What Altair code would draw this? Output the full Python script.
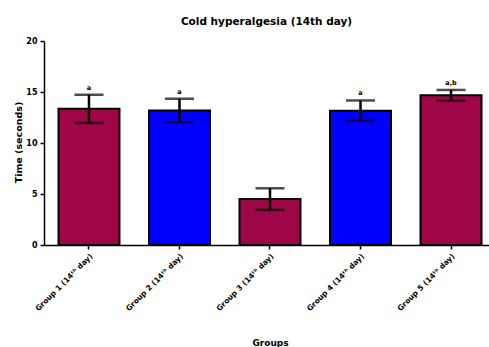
import altair as alt
import pandas as pd

groups = ["Group 1 (14ᵗʰ day)", "Group 2 (14ᵗʰ day)", "Group 3 (14ᵗʰ day)",
          "Group 4 (14ᵗʰ day)", "Group 5 (14ᵗʰ day)"]
means = [13.35, 13.18, 4.5, 13.17, 14.68]
sems = [1.38, 1.16, 1.06, 1.0, 0.52]
letters = ["a", "a", "", "a", "a,b"]
colors = ["#9E0648", "#0000FF", "#9E0648", "#0000FF", "#9E0648"]

df = pd.DataFrame({
    "group": groups,
    "mean": means,
    "lo": [m - s for m, s in zip(means, sems)],
    "hi": [m + s for m, s in zip(means, sems)],
    "letter": letters,
    "color": colors,
})

FONT = "DejaVu Sans"

x = alt.X("group:N", sort=groups,
          scale=alt.Scale(range=[0, 452], paddingInner=0.326, paddingOuter=0.16),
          axis=alt.Axis(title="Groups", labelAngle=-45, labelFont=FONT, labelFontSize=7.5,
                        labelFontWeight="bold", labelColor="black", tickColor="black",
                        tickSize=4, tickWidth=1.5, domainColor="black", domainWidth=1.5,
                        titleFont=FONT, titleFontSize=9, titleFontWeight="bold",
                        titleY=97, titleBaseline="middle", titleColor="black", labelPadding=3))

yscale = alt.Scale(domain=[0, 20], nice=False)

bars = alt.Chart(df).mark_bar(stroke="black", strokeWidth=2).encode(
    x=x,
    y=alt.Y("mean:Q", scale=yscale,
            axis=alt.Axis(title="Time (seconds)", values=[0, 5, 10, 15, 20], grid=False,
                          labelFont=FONT, labelFontSize=8, labelFontWeight="bold",
                          labelColor="black", tickColor="black", tickSize=4, tickWidth=1.5,
                          domainColor="black", domainWidth=1.5, titleFont=FONT,
                          titleFontSize=9.5, titleFontWeight="bold", titleColor="black",
                          titleX=-26, titleY=101, titleBaseline="middle", labelPadding=3)),
    fill=alt.Fill("color:N", scale=None),
)

err = alt.Chart(df).mark_rule(color="black", strokeWidth=2.5).encode(
    x=alt.X("group:N", sort=groups), y="lo:Q", y2="hi:Q")
cap_hi = alt.Chart(df).mark_tick(color="black", size=29, thickness=2.5).encode(
    x=alt.X("group:N", sort=groups), y="hi:Q")
cap_lo = alt.Chart(df).mark_tick(color="black", size=29, thickness=2.5).encode(
    x=alt.X("group:N", sort=groups), y="lo:Q")
txt = alt.Chart(df).mark_text(font=FONT, fontSize=6.5, fontWeight="bold", baseline="bottom",
                              dy=-4, color="black").encode(
    x=alt.X("group:N", sort=groups), y="hi:Q", text="letter:N")

chart = alt.layer(bars, err, cap_hi, cap_lo, txt).properties(
    width=445, height=204,
    background="white",
    title=alt.TitleParams("Cold hyperalgesia (14th day)", font=FONT, fontSize=10.5,
                          fontWeight="bold", color="black", offset=10, anchor="middle"),
    autosize=alt.AutoSizeParams(type="none"),
    padding={"left": 44, "top": 41, "right": 0, "bottom": 102},
).configure_view(stroke=None).configure_axis(grid=False)

chart.save("out.html", embed_options={"renderer": "svg", "actions": False})
